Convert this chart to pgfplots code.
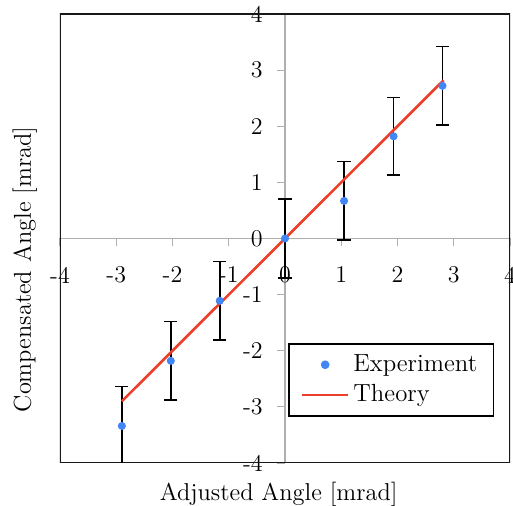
\documentclass[border=0pt]{standalone}
\usepackage{pgfplots}
\pgfplotsset{compat=1.18}
\definecolor{expblue}{RGB}{66,133,244}
\definecolor{thred}{RGB}{236,62,40}
\definecolor{axgray}{RGB}{175,175,175}
\pgfplotsset{
  legline/.style={legend image code/.code={\draw[##1] (0pt,0cm) -- (23pt,0cm);}},
  legdot/.style={legend image code/.code={\draw[##1] plot coordinates {(11.5pt,0cm)};}},
}
\begin{document}
\begin{tikzpicture}
\begin{axis}[
  scale only axis,
  width=225pt, height=224.5pt,
  xmin=-4, xmax=4, ymin=-4, ymax=4,
  axis lines=middle,
  axis line style={axgray, line width=0.6pt, -},
  hide obscured x ticks=false, hide obscured y ticks=false,
  xtick={-4,-3,-2,-1,0,1,2,3,4},
  ytick={-4,-3,-2,-1,0,1,2,3,4},
  xticklabels={-4,-3,-2,-1,0,1,2,3,4},
  yticklabels={-4,-3,-2,-1,0,1,2,3,4},
  tick align=outside,
  major tick length=4pt,
  tick style={axgray, line width=0.6pt},
  xticklabel style={font=\fontsize{12}{13}\selectfont, anchor=north, inner sep=0pt, yshift=-10pt},
  yticklabel style={font=\fontsize{12}{13}\selectfont, anchor=east, inner sep=0pt, xshift=-7pt},
  xlabel={Adjusted Angle [mrad]},
  ylabel={Compensated Angle [mrad]},
  xlabel style={at={(axis description cs:0.486,0)}, anchor=north, inner sep=0pt, yshift=-9.5pt, font=\fontsize{12.2}{14}\selectfont},
  ylabel style={at={(axis description cs:-0.078,0.431)}, anchor=center, rotate=90, inner sep=0pt, font=\fontsize{12.2}{14}\selectfont},
  legend style={at={(axis description cs:0.507,0.267)}, anchor=north west, draw=black, line width=0.7pt,
     font=\fontsize{12.4}{14}\selectfont, inner xsep=6pt, inner ysep=3.5pt, row sep=1pt,
     cells={anchor=west}},
  legend cell align=left,
  clip=true,
]
\draw[black!90, line width=0.9pt] (rel axis cs:0,0) rectangle (rel axis cs:1,1);
\addplot[only marks, mark=*, mark size=1.8pt, color=expblue, mark options={draw=expblue, fill=expblue},
  legdot,
  error bars/.cd, y dir=both, y explicit,
  error bar style={black, line width=0.75pt},
  error mark options={rotate=90, mark size=3.3pt, black, line width=0.75pt}]
  coordinates {
  (-2.90,-3.34) +- (0,0.70)
  (-2.03,-2.18) +- (0,0.70)
  (-1.16,-1.11) +- (0,0.70)
  (0.00,0.00) +- (0,0.70)
  (1.05,0.67) +- (0,0.70)
  (1.93,1.82) +- (0,0.69)
  (2.80,2.72) +- (0,0.70)
  };
\addlegendentry{Experiment\hspace{3pt}}
\addplot[thred, line width=1.3pt, legline]
  coordinates {(-2.90,-2.90) (2.82,2.82)};
\addlegendentry{Theory}
\end{axis}
\pgfresetboundingbox
\path ([shift={(-30pt,-21.5pt)}]current axis.south west) rectangle ([shift={(1.5pt,7pt)}]current axis.north east);
\end{tikzpicture}
\end{document}
